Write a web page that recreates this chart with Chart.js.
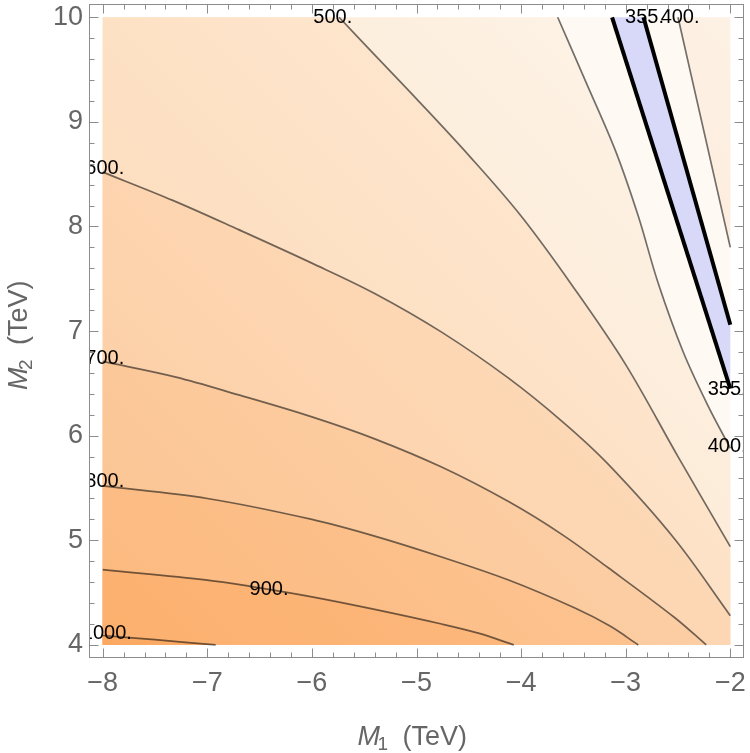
<!DOCTYPE html>
<html>
<head>
<meta charset="utf-8">
<title>M1 - M2 contours</title>
<script src="https://cdn.jsdelivr.net/npm/chart.js@4.4.1/dist/chart.umd.min.js"></script>
<style>
    html, body { margin: 0; padding: 0; background: #ffffff; }
    canvas { display: block; }
</style>
</head>
<body>
<canvas id="contourChart" width="750" height="753"></canvas>
<script>
// plotted domain (TeV) and frame ticks
const m1Domain = [-8, -2];
const m2Domain = [4, 10];
const m1Ticks = [-8, -7, -6, -5, -4, -3, -2];
const m2Ticks = [4, 5, 6, 7, 8, 9, 10];

// contour paths, [M1, M2]
const c1000 = [[-8, 4.09], [-7.5, 4.05], [-6.92, 4.0]];
const c900 = [[-8, 4.72], [-7, 4.62], [-6.59, 4.56], [-6, 4.46], [-5.4, 4.34], [-4.76, 4.2], [-4.4, 4.11], [-4.07, 4.0]];
const c800 = [[-8, 5.52], [-7, 5.4], [-6, 5.2], [-5.4, 5.04], [-4.76, 4.84], [-4.12, 4.62], [-3.48, 4.35], [-3.15, 4.18], [-2.88, 4.0]];
const c700 = [[-8, 6.71], [-7.3, 6.56], [-6.7, 6.39], [-6, 6.18], [-5.4, 5.97], [-4.76, 5.7], [-4.12, 5.37], [-3.6, 5.05], [-3.17, 4.74], [-2.53, 4.26], [-2.23, 4.0]];
const c600 = [[-8, 8.52], [-7.33, 8.25], [-6.7, 7.97], [-6, 7.65], [-5.4, 7.36], [-4.76, 6.99], [-4.12, 6.55], [-3.6, 6.13], [-3.17, 5.73], [-2.53, 5.01], [-2.0, 4.28]];
const c500 = [[-5.74, 10], [-5.4, 9.64], [-5, 9.22], [-4.5, 8.68], [-4, 8.1], [-3.5, 7.42], [-3, 6.68], [-2.5, 5.8], [-2.0, 4.94]];
const c400a = [[-3.65, 10], [-3.38, 9.38], [-3.1, 8.73], [-2.88, 8.1], [-2.69, 7.46], [-2.45, 6.8], [-2.22, 6.3], [-2.0, 5.88]];
const c400b = [[-2.5, 10], [-2.25, 8.9], [-2.0, 7.8]];
const c355a = [[-3.13, 10], [-2.0, 6.45]];
const c355b = [[-2.83, 10], [-2.0, 7.06]];

// contour labels
const labelText = ['500.', '600.', '700.', '800.', '900.', '1000.', '355.', '400.', '355.', '400.'];
const labelM1 = [-5.8, -7.98, -7.98, -7.98, -6.41, -7.96, -2.82, -2.48, -2.03, -2.03];
const labelM2 = [10.0, 8.55, 6.74, 5.56, 4.53, 4.11, 10.0, 10.0, 6.44, 5.9];

document.addEventListener('DOMContentLoaded', () => {
    const FONT = '"Liberation Sans", Arial, sans-serif';
    const GREY = '#666666';
    const FRAME = '#8c8c8c';

    const [xMin, xMax] = m1Domain;
    const [yMin, yMax] = m2Domain;
    const tl = [xMin, yMax], tr = [xMax, yMax], br = [xMax, yMin], bl = [xMin, yMin];

    const pts = arr => arr.map(([x, y]) => ({ x, y }));

    // move a colour along the white -> orange ramp (n > 0 lighter, n < 0 deeper)
    const ramp = [0.04, 0.55, 1.0];
    const shade = (hex, n) => {
        const v = [1, 3, 5].map(i => parseInt(hex.substr(i, 2), 16));
        return 'rgb(' + v.map((c, k) => Math.max(0, Math.min(255, Math.round(c + n * ramp[k])))).join(',') + ')';
    };

    // soft shading inside a band, deeper toward lower-left, lighter toward upper-right
    const bandShade = (base, tc) => (c) => {
        const { chart } = c;
        const xs = chart.scales.x, ys = chart.scales.y;
        if (!chart.chartArea || !xs || !ys) return base;
        const g = chart.ctx.createLinearGradient(
            xs.getPixelForValue(xMin), ys.getPixelForValue(yMin),
            xs.getPixelForValue(xMax), ys.getPixelForValue(yMax));
        const S = 40;
        g.addColorStop(0, shade(base, -S * tc));
        g.addColorStop(1, shade(base, S * (1 - tc)));
        return g;
    };

    // filled bands, painted back to front
    const fills = [
        { path: [bl, br, tr, tl], color: '#fef9f3' },
        { path: c400b.concat([tr]), color: '#fdf0e3', tc: 0.94 },
        { path: c400a.concat([br, bl, tl]), color: '#fdefe0', tc: 0.74 },
        { path: c500.concat([br, bl, tl]), color: '#fde3c9', tc: 0.6 },
        { path: c600.concat([br, bl]), color: '#fdd6b2', tc: 0.46 },
        { path: c700.concat([bl]), color: '#fccb9e', tc: 0.36 },
        { path: c800.concat([bl]), color: '#fcbf88', tc: 0.26 },
        { path: c900.concat([bl]), color: '#fcb374', tc: 0.15 },
        { path: c1000.concat([bl]), color: '#fbaa64', tc: 0.04 },
        { path: c355a.concat(c355b.slice().reverse()), color: '#d8d8f9' }
    ];

    const datasets = fills.map((f, i) => ({
        data: pts(f.path),
        showLine: true,
        fill: 'shape',
        backgroundColor: f.tc === undefined ? f.color : bandShade(f.color, f.tc),
        borderWidth: 0,
        borderColor: 'transparent',
        pointRadius: 0,
        tension: 0,
        order: 100 - i
    }));

    [c1000, c900, c800, c700, c600, c500, c400a, c400b].forEach(c => {
        datasets.push({
            data: pts(c), showLine: true, fill: false,
            borderColor: 'rgba(0,0,0,0.55)', borderWidth: 1.7,
            pointRadius: 0, tension: 0.35, order: 10
        });
    });
    [c355a, c355b].forEach(c => {
        datasets.push({
            data: pts(c), showLine: true, fill: false,
            borderColor: '#000000', borderWidth: 4, borderCapStyle: 'butt',
            pointRadius: 0, tension: 0, order: 5
        });
    });

    // contour labels on top of the lines, clipped to the frame
    const contourLabels = {
        id: 'contourLabels',
        afterDatasetsDraw(chart) {
            const { ctx, chartArea: a, scales: { x, y } } = chart;
            ctx.save();
            ctx.beginPath();
            ctx.rect(a.left, a.top, a.right - a.left, a.bottom - a.top);
            ctx.clip();
            ctx.font = '20px ' + FONT;
            ctx.fillStyle = '#000000';
            ctx.textAlign = 'center';
            ctx.textBaseline = 'middle';
            labelText.forEach((t, i) => {
                ctx.fillText(t, x.getPixelForValue(labelM1[i]), y.getPixelForValue(labelM2[i]));
            });
            ctx.restore();
        }
    };

    // Mathematica-style frame with inward ticks on all sides
    const frameTicks = {
        id: 'frameTicks',
        afterDraw(chart) {
            const { ctx, chartArea: a, scales: { x, y } } = chart;
            const L = a.left + 0.5, R = a.right - 0.5, T = a.top + 0.5, B = a.bottom - 0.5;
            ctx.save();
            ctx.strokeStyle = FRAME;
            ctx.lineWidth = 1;
            ctx.strokeRect(L, T, R - L, B - T);
            ctx.beginPath();
            const steps = (ticks) => {
                const out = [];
                for (let i = 0; i < ticks.length; i++) {
                    out.push([ticks[i], 9]);
                    if (i < ticks.length - 1) {
                        for (let k = 1; k < 5; k++) out.push([ticks[i] + k * (ticks[i + 1] - ticks[i]) / 5, 5]);
                    }
                }
                return out;
            };
            steps(m1Ticks).forEach(([v, len]) => {
                const px = Math.round(x.getPixelForValue(v)) + 0.5;
                ctx.moveTo(px, B); ctx.lineTo(px, B - len);
                ctx.moveTo(px, T); ctx.lineTo(px, T + len);
            });
            steps(m2Ticks).forEach(([v, len]) => {
                const py = Math.round(y.getPixelForValue(v)) + 0.5;
                ctx.moveTo(L, py); ctx.lineTo(L + len, py);
                ctx.moveTo(R, py); ctx.lineTo(R - len, py);
            });
            ctx.stroke();

            // axis titles: italic M with subscript, then (TeV)
            const drawTitle = (sub) => {
                ctx.textAlign = 'left';
                ctx.textBaseline = 'alphabetic';
                ctx.fillStyle = GREY;
                const x0 = -59;
                ctx.font = 'italic 27px ' + FONT;
                ctx.fillText('M', x0, 0);
                ctx.font = '19px ' + FONT;
                ctx.fillText(sub, x0 + 20, 5);
                ctx.font = '27px ' + FONT;
                ctx.fillText('(TeV)', x0 + 45, 0);
            };
            const cx = (a.left + a.right) / 2, cy = (a.top + a.bottom) / 2;
            ctx.save();
            ctx.translate(cx, 745);
            drawTitle('1');
            ctx.restore();
            ctx.save();
            ctx.translate(27, cy);
            ctx.rotate(-Math.PI / 2);
            drawTitle('2');
            ctx.restore();
            ctx.restore();
        }
    };

    const minus = v => (v < 0 ? '\u2212' + Math.abs(v) : String(v));
    // fixed frame: no extra room for overhanging tick labels
    const noPad = s => { s.paddingTop = 0; s.paddingBottom = 0; s.paddingLeft = 0; s.paddingRight = 0; };

    new Chart(document.getElementById('contourChart'), {
        type: 'scatter',
        data: { datasets },
        options: {
            responsive: false,
            animation: false,
            events: [],
            layout: { padding: { left: 0, top: 4, right: 6, bottom: 0 } },
            plugins: { legend: { display: false }, tooltip: { enabled: false } },
            scales: {
                x: {
                    type: 'linear',
                    min: -8.131, max: -1.869,
                    afterBuildTicks: s => { s.ticks = m1Ticks.map(v => ({ value: v })); },
                    afterFit: s => { s.height = 95; noPad(s); },
                    grid: { display: false, drawTicks: false },
                    border: { display: false },
                    ticks: { color: GREY, font: { family: FONT, size: 27 }, padding: 9, maxRotation: 0, callback: minus }
                },
                y: {
                    type: 'linear',
                    min: 3.875, max: 10.127,
                    afterBuildTicks: s => { s.ticks = m2Ticks.map(v => ({ value: v })); },
                    afterFit: s => { s.width = 89; noPad(s); },
                    grid: { display: false, drawTicks: false },
                    border: { display: false },
                    ticks: { color: GREY, font: { family: FONT, size: 27 }, padding: 6, callback: minus }
                }
            }
        },
        plugins: [contourLabels, frameTicks]
    });
});
</script>
</body>
</html>
